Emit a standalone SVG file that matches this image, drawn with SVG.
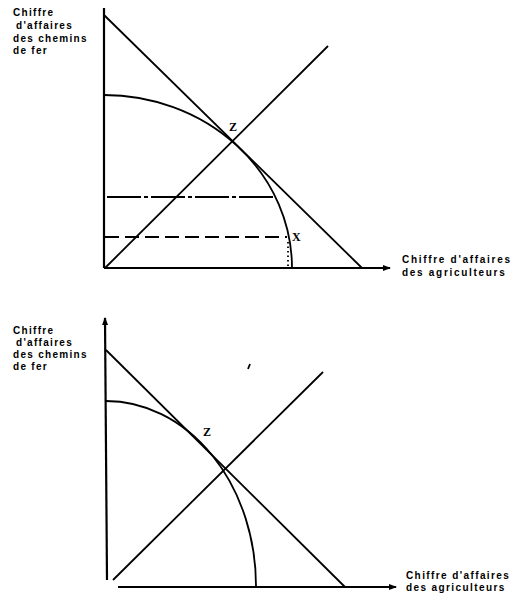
<svg xmlns="http://www.w3.org/2000/svg" width="516" height="599" viewBox="0 0 516 599">
<style>
  .ax{stroke:#000;stroke-width:2.2;fill:none}
  .ln{stroke:#000;stroke-width:1.8;fill:none}
  .lbl{font-family:"Liberation Sans",Arial,sans-serif;font-weight:bold;font-size:10px;letter-spacing:1.3px;fill:#000}
  .xl{letter-spacing:1.7px}
  .xb{letter-spacing:1.4px}
  .pt{font-family:"Liberation Serif","Times New Roman",serif;font-weight:bold;font-size:12px;fill:#000}
</style>
<defs>
  <marker id="arr" markerWidth="8" markerHeight="8" refX="7" refY="4" orient="auto" markerUnits="userSpaceOnUse">
    <path d="M0,1 L8,4 L0,7 Z" fill="#000"/>
  </marker>
</defs>
<rect width="516" height="599" fill="#fff"/>

<g id="top-chart">
  <g id="top-axes">
    <line class="ax" x1="104" y1="8" x2="104" y2="268"/>
    <line class="ax" x1="104" y1="268" x2="390" y2="268" marker-end="url(#arr)"/>
  </g>
  <g id="top-lines">
    <line class="ln" x1="104" y1="15" x2="362" y2="268"/>
    <line class="ln" x1="105" y1="268" x2="328" y2="46"/>
    <path class="ln" d="M104,95 A188,173 0 0 1 292,268"/>
    <line class="ln" x1="107" y1="197" x2="273" y2="197" stroke-width="1.5" stroke-dasharray="34 3 4 3"/>
    <line class="ln" x1="105" y1="237" x2="287" y2="237" stroke-width="1.5" stroke-dasharray="14 6"/>
    <line class="ln" x1="288" y1="242" x2="288" y2="266" stroke-width="1.2" stroke-dasharray="1.5 3"/>
  </g>
  <text class="pt" x="229" y="131">Z</text>
  <text class="pt" x="292" y="241">X</text>
  <g id="top-y-label">
    <text class="lbl" x="13" y="16">Chiffre</text>
    <text class="lbl" x="16" y="29">d'affaires</text>
    <text class="lbl" x="13" y="42">des chemins</text>
    <text class="lbl" x="13" y="54">de fer</text>
  </g>
  <g id="top-x-label">
    <text class="lbl xl" x="402" y="263">Chiffre d'affaires</text>
    <text class="lbl xl" x="402" y="276">des agriculteurs</text>
  </g>
</g>

<g id="bottom-chart">
  <g id="bottom-axes">
    <line class="ax" x1="107" y1="580" x2="105" y2="318" marker-end="url(#arr)"/>
    <line class="ax" x1="118" y1="587" x2="396" y2="587" marker-end="url(#arr)"/>
  </g>
  <g id="bottom-lines">
    <line class="ln" x1="106" y1="350" x2="345" y2="587"/>
    <line class="ln" x1="113" y1="580" x2="323" y2="372"/>
    <path class="ln" d="M106,401 A150,185 0 0 1 256,587"/>
    <line class="ln" x1="248" y1="369" x2="250" y2="364" stroke-width="1.6"/>
  </g>
  <text class="pt" x="203" y="436">Z</text>
  <g id="bottom-y-label">
    <text class="lbl" x="13" y="334">Chiffre</text>
    <text class="lbl" x="16" y="346">d'affaires</text>
    <text class="lbl" x="13" y="358">des chemins</text>
    <text class="lbl" x="13" y="370">de fer</text>
  </g>
  <g id="bottom-x-label">
    <text class="lbl xb" x="406" y="579">Chiffre d'affaires</text>
    <text class="lbl xb" x="406" y="591">des agriculteurs</text>
  </g>
</g>
</svg>
